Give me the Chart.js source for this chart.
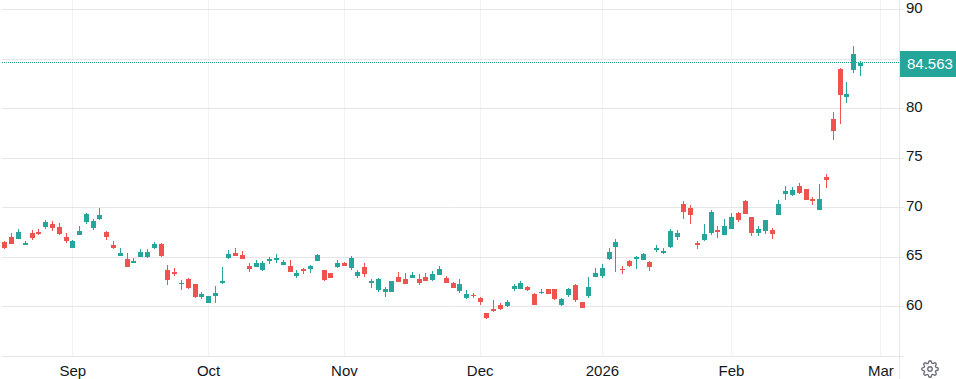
<!DOCTYPE html>
<html>
<head>
<meta charset="utf-8">
<title>Chart</title>
<script src="https://cdn.jsdelivr.net/npm/chart.js@4/dist/chart.umd.min.js"></script>
<style>
	html, body { margin: 0; padding: 0; background: #fff; overflow: hidden; }
	#wrap { position: relative; width: 956px; height: 379px; }
	#chart { display: block; }
	#gear { position: absolute; left: 921px; top: 360px; }
</style>
</head>
<body>
<div id="wrap">
	<canvas id="chart" width="956" height="379"></canvas>
	<svg id="gear" width="18" height="18" viewBox="0 0 24 24" fill="none" stroke="#6a6d78" stroke-width="1.8">
		<circle cx="12" cy="12" r="3"></circle>
		<path d="M19.4 15a1.65 1.65 0 0 0 .33 1.82l.06.06a2 2 0 0 1 0 2.83 2 2 0 0 1-2.83 0l-.06-.06a1.65 1.65 0 0 0-1.82-.33 1.65 1.65 0 0 0-1 1.51V21a2 2 0 0 1-2 2 2 2 0 0 1-2-2v-.09A1.65 1.65 0 0 0 9 19.4a1.65 1.65 0 0 0-1.82.33l-.06.06a2 2 0 0 1-2.83 0 2 2 0 0 1 0-2.83l.06-.06a1.65 1.65 0 0 0 .33-1.82 1.65 1.65 0 0 0-1.51-1H3a2 2 0 0 1-2-2 2 2 0 0 1 2-2h.09A1.65 1.65 0 0 0 4.6 9a1.65 1.65 0 0 0-.33-1.82l-.06-.06a2 2 0 0 1 0-2.83 2 2 0 0 1 2.83 0l.06.06a1.65 1.65 0 0 0 1.82.33H9a1.65 1.65 0 0 0 1-1.51V3a2 2 0 0 1 2-2 2 2 0 0 1 2 2v.09a1.65 1.65 0 0 0 1 1.51 1.65 1.65 0 0 0 1.82-.33l.06-.06a2 2 0 0 1 2.83 0 2 2 0 0 1 0 2.83l-.06.06a1.65 1.65 0 0 0-.33 1.82V9a1.65 1.65 0 0 0 1.51 1H21a2 2 0 0 1 2 2 2 2 0 0 1-2 2h-.09a1.65 1.65 0 0 0-1.51 1z"></path>
	</svg>
</div>
<script>
const opens = [
	66.52, 67.02, 66.82, 66.21, 67.43, 67.53, 68.03, 68.34, 68.03, 67.02,
	65.91, 67.22, 68.54, 67.93, 68.84, 67.53, 66.21, 65.10, 64.80, 64.40,
	65.00, 65.00, 65.91, 66.32, 63.69, 63.49, 62.28, 62.78, 62.28, 60.96,
	60.36, 61.06, 62.38, 64.90, 65.41, 65.20, 64.09, 63.99, 63.69, 64.60,
	64.70, 64.19, 64.09, 63.08, 63.79, 63.79, 64.60, 63.69, 63.39, 63.99,
	64.40, 63.89, 63.08, 63.99, 62.38, 61.67, 61.47, 61.47, 62.98, 62.78,
	62.88, 62.78, 62.98, 62.68, 63.18, 62.88, 62.38, 61.57, 60.86, 61.17,
	60.86, 59.35, 59.75, 60.16, 60.05, 61.77, 61.77, 61.97, 61.27, 61.37,
	61.77, 61.77, 60.16, 61.17, 62.18, 60.46, 61.06, 62.98, 63.08, 64.80,
	66.01, 63.79, 64.60, 64.80, 64.70, 64.50, 65.71, 65.41, 66.01, 67.02,
	70.36, 69.95, 66.42, 66.72, 67.43, 67.73, 67.22, 67.83, 69.45, 70.66,
	69.04, 67.43, 67.63, 67.73, 69.25, 71.37, 71.26, 72.17, 71.87, 70.86,
	69.75, 73.08, 78.94, 83.99, 81.16, 83.89, 84.29,
];
const highs = [
	66.62, 67.43, 67.83, 66.62, 67.73, 67.83, 68.74, 68.64, 68.44, 67.43,
	66.72, 68.13, 69.45, 68.84, 69.95, 67.63, 66.62, 65.91, 65.41, 64.90,
	65.81, 65.81, 66.52, 66.42, 64.19, 63.89, 62.68, 62.88, 62.28, 61.47,
	61.06, 62.07, 63.99, 65.71, 65.91, 65.61, 64.40, 64.70, 64.60, 65.00,
	65.31, 64.70, 64.70, 63.69, 63.89, 64.19, 65.31, 63.69, 63.39, 64.70,
	64.50, 65.10, 63.69, 64.40, 62.78, 62.88, 61.97, 62.58, 63.49, 63.39,
	63.49, 63.29, 63.39, 63.59, 64.09, 63.08, 62.48, 62.78, 61.67, 61.37,
	60.96, 59.35, 60.66, 60.36, 60.66, 62.28, 62.58, 62.07, 61.37, 61.77,
	61.77, 61.77, 60.86, 61.87, 62.28, 60.46, 62.98, 63.89, 64.30, 65.91,
	66.82, 64.09, 64.70, 65.10, 65.41, 64.60, 66.21, 65.91, 67.83, 67.73,
	70.66, 70.25, 66.62, 68.34, 69.75, 68.13, 68.84, 69.45, 69.55, 70.76,
	69.04, 68.13, 68.74, 67.93, 70.76, 72.17, 72.07, 72.48, 71.87, 71.06,
	72.38, 73.39, 79.65, 84.09, 82.68, 86.31, 84.80,
];
const lows = [
	65.81, 66.32, 66.82, 66.21, 66.72, 67.22, 67.83, 67.63, 67.22, 66.42,
	65.91, 67.22, 68.34, 67.73, 68.74, 66.72, 65.81, 65.10, 63.99, 64.40,
	65.00, 64.90, 65.81, 65.00, 62.17, 63.08, 61.67, 61.77, 60.86, 60.76,
	60.36, 60.36, 62.28, 64.80, 65.10, 64.80, 63.49, 63.99, 63.59, 64.30,
	64.40, 64.19, 63.49, 62.88, 63.29, 63.39, 64.60, 62.58, 62.88, 63.89,
	64.09, 63.69, 62.88, 62.98, 61.87, 61.47, 60.96, 61.47, 62.48, 62.28,
	62.88, 62.18, 62.58, 62.58, 63.18, 62.38, 61.87, 61.37, 60.76, 60.86,
	60.16, 58.74, 59.45, 59.65, 59.95, 61.57, 61.77, 61.57, 60.16, 61.27,
	61.27, 60.66, 60.05, 60.96, 60.46, 59.85, 60.86, 62.98, 62.88, 64.70,
	63.49, 63.29, 63.99, 63.79, 64.70, 63.59, 65.51, 65.31, 65.91, 66.72,
	68.84, 68.34, 65.81, 66.62, 67.22, 66.92, 67.22, 67.83, 68.54, 69.35,
	67.12, 67.12, 67.33, 66.82, 69.25, 70.76, 71.16, 71.37, 70.76, 70.25,
	69.75, 71.97, 76.82, 78.44, 80.56, 83.59, 83.28,
];
const closes = [
	65.91, 66.32, 67.53, 66.42, 66.92, 67.33, 68.54, 67.93, 67.33, 66.62,
	66.62, 67.63, 69.35, 68.64, 69.24, 67.02, 65.91, 65.41, 63.99, 64.60,
	65.51, 65.51, 66.32, 65.10, 62.68, 63.29, 62.38, 61.87, 60.96, 61.27,
	61.06, 61.37, 62.58, 65.31, 65.10, 64.80, 63.79, 64.40, 64.40, 64.80,
	64.90, 64.50, 63.49, 63.39, 63.59, 64.09, 65.20, 62.68, 62.88, 64.40,
	64.09, 64.90, 63.49, 63.29, 62.58, 62.78, 61.77, 62.58, 62.48, 62.28,
	63.18, 62.38, 62.58, 63.29, 63.79, 62.38, 61.87, 62.28, 61.27, 61.06,
	60.46, 58.84, 59.55, 59.75, 60.46, 62.07, 62.38, 61.67, 60.16, 61.47,
	61.27, 60.76, 60.76, 61.77, 60.66, 59.85, 61.97, 63.39, 63.89, 65.51,
	66.52, 63.69, 64.09, 65.00, 65.31, 63.99, 65.91, 65.61, 67.63, 67.43,
	69.55, 69.25, 66.21, 67.33, 69.55, 67.53, 68.13, 69.04, 68.74, 69.35,
	67.43, 67.83, 68.74, 67.33, 70.36, 71.67, 71.77, 71.47, 70.76, 70.66,
	70.86, 72.78, 77.73, 81.37, 81.47, 85.51, 84.563,
];
const timeTicks = [10, 30, 50, 70, 88, 107, 129];
const timeLabels = ['Sep', 'Oct', 'Nov', 'Dec', '2026', 'Feb', 'Mar'];
const priceTicks = [60, 65, 70, 75, 80, 85, 90];

const upColor = '#26a69a';
const downColor = '#ef5350';
const gridColor = '#e6e6e6';
const textColor = '#131722';
const fontFamily = '"Liberation Sans", Arial, sans-serif';

const barColor = (ctx) => (closes[ctx.dataIndex] >= opens[ctx.dataIndex] ? upColor : downColor);
const lastPrice = closes[closes.length - 1];

// keeps bars on whole pixels so they stay as sharp as the original
const snapPlugin = {
	id: 'snap',
	afterDatasetsUpdate(chart) {
		chart.data.datasets.forEach((ds, i) => {
			chart.getDatasetMeta(i).data.forEach((bar) => {
				bar.x = Math.floor(bar.x) + 0.5;
				bar.y = Math.round(bar.y);
				bar.base = Math.round(bar.base);
				if (bar.base === bar.y) bar.base = bar.y + 1;
			});
		});
	},
};

const sheetPlugin = {
	id: 'sheet',
	beforeDraw(chart) {
		const c = chart.ctx;
		c.save();
		c.fillStyle = '#fff';
		c.fillRect(0, 0, chart.width, chart.height);
		c.restore();
	},
};

const priceLinePlugin = {
	id: 'priceLine',
	afterDraw(chart) {
		const c = chart.ctx;
		const area = chart.chartArea;
		const y = Math.floor(chart.scales.y.getPixelForValue(lastPrice)) - 0.5;
		c.save();
		// axis lines running past the plot
		c.strokeStyle = gridColor;
		c.lineWidth = 1;
		c.beginPath();
		c.moveTo(area.right + 0.5, area.bottom);
		c.lineTo(area.right + 0.5, chart.height);
		c.moveTo(area.right, Math.floor(area.bottom) + 0.5);
		c.lineTo(area.right + 5, Math.floor(area.bottom) + 0.5);
		c.stroke();
		// last price line and its label
		c.strokeStyle = upColor;
		c.setLineDash([1, 1]);
		c.beginPath();
		c.moveTo(area.left, y);
		c.lineTo(area.right, y);
		c.stroke();
		c.setLineDash([]);
		c.fillStyle = upColor;
		c.fillRect(area.right + 1, y - 11.5, chart.width - area.right - 1, 26);
		c.fillStyle = '#fff';
		c.font = '15px ' + fontFamily;
		c.textAlign = 'left';
		c.textBaseline = 'middle';
		c.fillText(lastPrice.toFixed(3), area.right + 8, y + 2);
		c.restore();
	},
};

const chartCanvas = document.getElementById('chart');
chartCanvas.getContext('2d', { alpha: false });

new Chart(chartCanvas, {
	type: 'bar',
	data: {
		datasets: [
			{
				data: opens.map((o, i) => ({ x: i, y: [Math.min(o, closes[i]), Math.max(o, closes[i])] })),
				backgroundColor: barColor,
				barThickness: 5,
				grouped: false,
				inflateAmount: 0,
				borderWidth: 0,
			},
			{
				data: lows.map((l, i) => ({ x: i, y: [l, highs[i]] })),
				backgroundColor: barColor,
				barThickness: 1,
				grouped: false,
				inflateAmount: 0,
				borderWidth: 0,
			},
		],
	},
	options: {
		responsive: false,
		animation: false,
		devicePixelRatio: 1,
		layout: { padding: { left: 2 } },
		plugins: {
			legend: { display: false },
			tooltip: { enabled: false },
		},
		scales: {
			x: {
				type: 'linear',
				offset: false,
				min: -0.4271,
				max: 131.68,
				afterBuildTicks(scale) {
					scale.ticks = timeTicks.map((value) => ({ value }));
				},
				afterFit(scale) {
					scale.height = 22.5;
					scale.paddingLeft = 0;
					scale.paddingRight = 0;
				},
				grid: { color: '#f0f3fa', drawTicks: false, offset: false },
				border: { color: gridColor },
				ticks: {
					autoSkip: false,
					maxRotation: 0,
					padding: 6,
					color: textColor,
					font: { family: fontFamily, size: 15 },
					callback: (value) => timeLabels[timeTicks.indexOf(value)],
				},
			},
			y: {
				position: 'right',
				min: 54.95,
				max: 90.96,
				afterBuildTicks(scale) {
					scale.ticks = priceTicks.map((value) => ({ value }));
				},
				afterFit(scale) {
					scale.width = 57;
					scale.paddingTop = 0;
					scale.paddingBottom = 0;
				},
				grid: { color: gridColor, tickLength: 5 },
				border: { color: gridColor },
				ticks: {
					padding: 2,
					labelOffset: -1,
					color: textColor,
					font: { family: fontFamily, size: 15 },
					callback: (value) => (value === 85 ? '' : String(value)),
				},
			},
		},
	},
	plugins: [sheetPlugin, snapPlugin, priceLinePlugin],
});
</script>
</body>
</html>
